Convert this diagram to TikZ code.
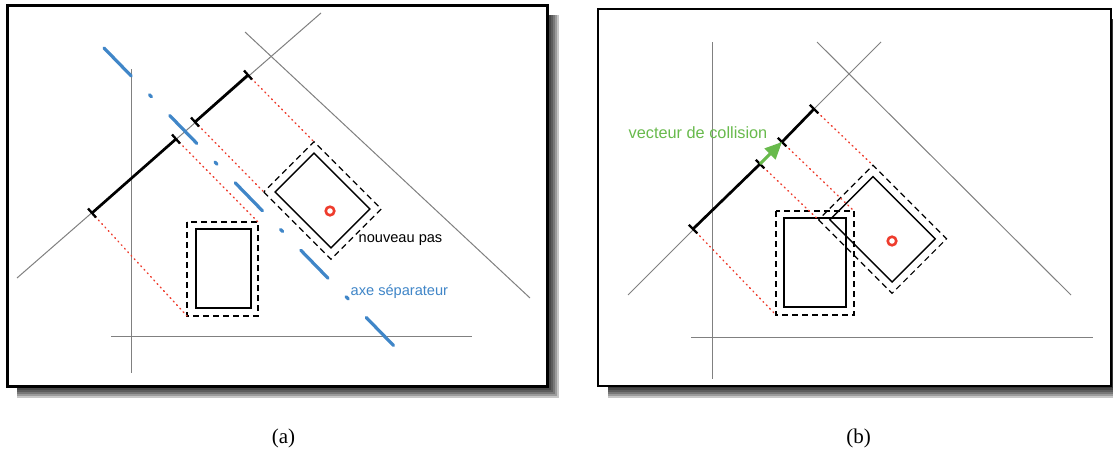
\documentclass[tikz,border=0pt]{standalone}
\usepackage{fontspec}
\setmainfont{Liberation Serif}
\newfontfamily\labfont{Liberation Sans}
\usetikzlibrary{calc,arrows.meta}
\definecolor{axisgray}{RGB}{128,128,128}
\definecolor{sepblue}{RGB}{64,134,200}
\definecolor{dotred}{RGB}{238,60,45}
\definecolor{collgreen}{RGB}{104,186,76}
\newcommand\tickat[3]{\draw[tickmark] ($(#1)+(-#2,-#3)$) -- ($(#1)+(#2,#3)$);}
\newcommand\shadowbox[4]{%
  \foreach \k in {1,...,6}{\fill[black,opacity=0.22] (#1+10,#2+10) rectangle (#3+2*\k,#4+2*\k);}}
\begin{document}
\begin{tikzpicture}[x=1pt,y=-1pt,
  guide/.style={draw=axisgray,line width=1pt},
  projseg/.style={draw=black,line width=2.7pt},
  tickmark/.style={draw=black,line width=2.3pt},
  proj/.style={draw=dotred,line width=1.4pt,dash pattern=on 1pt off 3.8pt,line cap=round},
  boxline/.style={draw=black,line width=1.4pt},
  marginbox/.style={draw=black,line width=1.2pt,dash pattern=on 6pt off 4pt},
  sepaxis/.style={draw=sepblue,line width=3.2pt,line cap=round,dash pattern=on 39pt off 26pt on 3pt off 26pt},
  centre/.style={draw=dotred,line width=2.6pt},
  lab/.style={font=\labfont\fontsize{14.6}{17}\selectfont,inner sep=0pt,anchor=west},
  captext/.style={font=\fontsize{21}{24}\selectfont,inner sep=0pt}]
\useasboundingbox (0,0) rectangle (1113,450);
\fill[white] (0,0) rectangle (1113,450);

% ---------- frames with shadows ----------
\shadowbox{7}{5}{547}{386}
\draw[line width=3pt,fill=white] (7,5) rectangle (547,386);
\shadowbox{598}{9}{1111}{386}
\draw[line width=1.8pt,fill=white] (598,9) rectangle (1111,386);

% ================= panel (a) =================
\draw[guide] (131,69) -- (131,373);
\draw[guide] (111,336) -- (472,336);
\draw[guide] (17,278) -- (321,13);
\draw[guide] (245,32) -- (530,298);

% boxes
\draw[boxline] (196,229) rectangle (251,308);
\draw[marginbox] (187,222) rectangle (258,316);
\coordinate (aDL) at (187,316);
\coordinate (aTR) at (258,222);
\begin{scope}[shift={(322.5,200.5)},rotate=45]
  \draw[boxline] (-27.5,-39.5) rectangle (27.5,39.5);
  \draw[marginbox] (-35.5,-47.5) rectangle (35.5,47.5);
\end{scope}
\coordinate (aRL) at (263.8,192);
\coordinate (aRT) at (314,141.8);
\draw[centre] (330,211) circle (4.3);

% projection
\coordinate (T1) at (92,213);
\coordinate (T2) at (176,139);
\coordinate (T3) at (195,122);
\coordinate (T4) at (248,75);
\draw[proj] (T1) -- (aDL);
\draw[proj] (T2) -- (aTR);
\draw[proj] (T3) -- (aRL);
\draw[proj] (T4) -- (aRT);
\draw[projseg] (T1) -- (T2);
\draw[projseg] (T3) -- (T4);
\tickat{T1}{4}{4.5}
\tickat{T2}{4}{4.5}
\tickat{T3}{4}{4.5}
\tickat{T4}{4}{4.5}

% separating axis
\coordinate (sepA) at (104.1,48.1);
\coordinate (sepB) at (393.9,345.9);
\draw[sepaxis] (sepA) -- (sepB);

\node[lab] (newstep) at (358.5,240) {nouveau pas};
\node[lab,text=sepblue] (seplab) at (350.5,291.5) {axe séparateur};
\node[captext] (capa) at (283.5,438) {(a)};

% ================= panel (b) =================
\draw[guide] (712,42) -- (712,379);
\draw[guide] (691,337) -- (1093,337);
\draw[guide] (628,295) -- (881,42);
\draw[guide] (817,42) -- (1071,295);

\draw[boxline] (784,218) rectangle (846,307);
\draw[marginbox] (776,211) rectangle (854,315);
\coordinate (bDL) at (776,315);
\coordinate (bTR) at (854,211);
\begin{scope}[shift={(882.5,229.3)},rotate=45]
  \draw[boxline] (-30.5,-44) rectangle (30.5,44);
  \draw[marginbox] (-38.5,-52) rectangle (38.5,52);
\end{scope}
\coordinate (bRL) at (818.5,219.8);
\coordinate (bRT) at (873,165.3);
\draw[centre] (892,241) circle (4.3);

\coordinate (S1) at (693,229);
\coordinate (S2) at (760,164);
\coordinate (S3) at (782,142);
\coordinate (S4) at (814,109);
\draw[proj] (S1) -- (bDL);
\draw[proj] (S2) -- (bRL);
\draw[proj] (S3) -- (bTR);
\draw[proj] (S4) -- (bRT);
\draw[projseg] (S1) -- (S2);
\draw[projseg] (S3) -- (S4);
\tickat{S1}{4.2}{4.3}
\tickat{S2}{4.2}{4.3}
\tickat{S3}{4.2}{4.3}
\tickat{S4}{4.2}{4.3}
\draw[collgreen,line width=3pt,-{Triangle[length=17pt,width=15pt]}] (S2) -- (S3);

\node[lab,text=collgreen,font=\labfont\fontsize{16.3}{19}\selectfont] (colllab) at (628.5,132.5) {vecteur de collision};
\node[captext] (capb) at (858.5,438) {(b)};
\end{tikzpicture}
\end{document}
